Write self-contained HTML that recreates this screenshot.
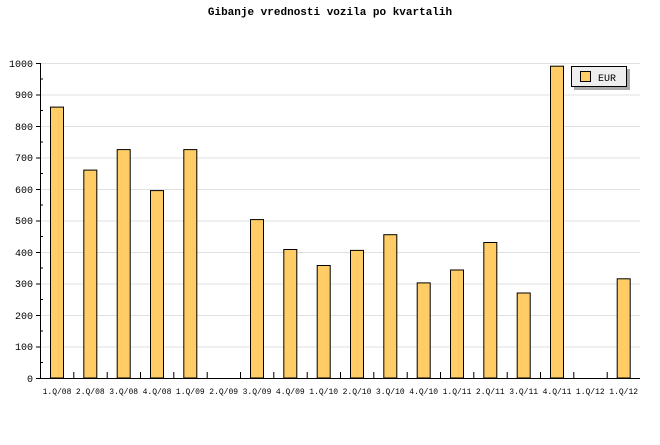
<!DOCTYPE html>
<html><head><style>body{margin:0;background:#fff}</style></head><body>
<svg width="660" height="440" xmlns="http://www.w3.org/2000/svg" font-family="Liberation Mono, monospace">
<text x="330" y="15" text-anchor="middle" font-size="11" font-weight="bold">Gibanje vrednosti vozila po kvartalih</text>
<g stroke="#e0e0e0" stroke-width="1">
<line x1="40" x2="640" y1="63.5" y2="63.5"/><line x1="40" x2="640" y1="95" y2="95"/><line x1="40" x2="640" y1="126.5" y2="126.5"/><line x1="40" x2="640" y1="158" y2="158"/><line x1="40" x2="640" y1="189.5" y2="189.5"/><line x1="40" x2="640" y1="221" y2="221"/><line x1="40" x2="640" y1="252.5" y2="252.5"/><line x1="40" x2="640" y1="284" y2="284"/><line x1="40" x2="640" y1="315.5" y2="315.5"/><line x1="40" x2="640" y1="347" y2="347"/>
</g>
<g fill="#ffcc66" stroke="#000" stroke-width="1">
<rect x="50.5" y="107.1" width="13" height="270.9"/>
<rect x="83.8" y="170.1" width="13" height="207.9"/>
<rect x="117.2" y="149.6" width="13" height="228.4"/>
<rect x="150.5" y="190.6" width="13" height="187.4"/>
<rect x="183.8" y="149.6" width="13" height="228.4"/>
<rect x="250.5" y="219.6" width="13" height="158.4"/>
<rect x="283.8" y="249.5" width="13" height="128.5"/>
<rect x="317.2" y="265.5" width="13" height="112.5"/>
<rect x="350.5" y="250.4" width="13" height="127.6"/>
<rect x="383.8" y="234.7" width="13" height="143.3"/>
<rect x="417.2" y="282.9" width="13" height="95.1"/>
<rect x="450.5" y="270" width="13" height="108"/>
<rect x="483.8" y="242.5" width="13" height="135.5"/>
<rect x="517.2" y="293" width="13" height="85"/>
<rect x="550.5" y="66.2" width="13" height="311.8"/>
<rect x="617.2" y="278.8" width="13" height="99.2"/>
</g>
<g stroke="#000" stroke-width="1">
<line x1="40.5" y1="63" x2="40.5" y2="378"/>
<line x1="40" y1="378.5" x2="640" y2="378.5"/>
<path d="M36 63.5h4M36 95h4M36 126.5h4M36 158h4M36 189.5h4M36 221h4M36 252.5h4M36 284h4M36 315.5h4M36 347h4M36 378.5h4
M40 79h3M40 110.5h3M40 142h3M40 173.5h3M40 205h3M40 236.5h3M40 268h3M40 299.5h3M40 331h3M40 362.5h3"/>
<path d="M73.8 378v-6M107.2 378v-6M140.5 378v-6M173.8 378v-6M207.2 378v-6M240.5 378v-6M273.8 378v-6M307.2 378v-6M340.5 378v-6M373.8 378v-6M407.2 378v-6M440.5 378v-6M473.8 378v-6M507.2 378v-6M540.5 378v-6M573.8 378v-6M607.2 378v-6"/>
</g>
<g font-size="10" text-anchor="end">
<text x="33" y="67">1000</text><text x="33" y="98">900</text><text x="33" y="130">800</text><text x="33" y="161">700</text><text x="33" y="193">600</text><text x="33" y="224">500</text><text x="33" y="256">400</text><text x="33" y="287">300</text><text x="33" y="319">200</text><text x="33" y="350">100</text><text x="33" y="382">0</text>
</g>
<g font-size="8" text-anchor="middle">
<text x="57" y="394">1.Q/08</text><text x="90.3" y="394">2.Q/08</text><text x="123.7" y="394">3.Q/08</text><text x="157" y="394">4.Q/08</text><text x="190.3" y="394">1.Q/09</text><text x="223.7" y="394">2.Q/09</text><text x="257" y="394">3.Q/09</text><text x="290.3" y="394">4.Q/09</text><text x="323.7" y="394">1.Q/10</text><text x="357" y="394">2.Q/10</text><text x="390.3" y="394">3.Q/10</text><text x="423.7" y="394">4.Q/10</text><text x="457" y="394">1.Q/11</text><text x="490.3" y="394">2.Q/11</text><text x="523.7" y="394">3.Q/11</text><text x="557" y="394">4.Q/11</text><text x="590.3" y="394">1.Q/12</text><text x="623.7" y="394">1.Q/12</text>
</g>
<rect x="574" y="69" width="56" height="21" fill="#aaa"/>
<rect x="571.5" y="66.5" width="55" height="20" fill="#eee" stroke="#000"/>
<rect x="580.5" y="71.5" width="10" height="10" fill="#ffcc66" stroke="#000"/>
<text x="598" y="81" font-size="10">EUR</text>
</svg>
</body></html>
